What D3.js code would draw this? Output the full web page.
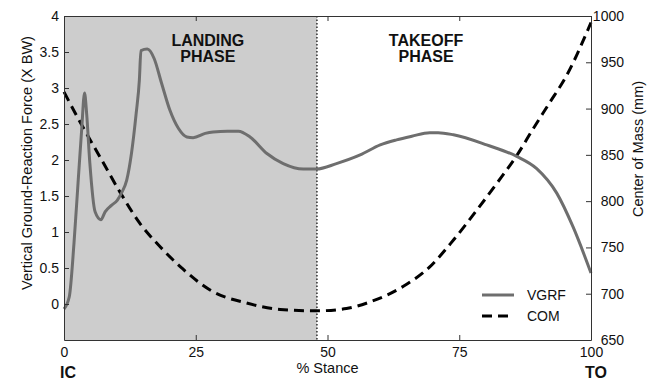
<!DOCTYPE html>
<html>
<head>
<meta charset="utf-8">
<script src="https://cdn.jsdelivr.net/npm/d3@7"></script>
<style>
  body { margin: 0; background: #fff; }
  text { font-family: "Liberation Sans", Arial, sans-serif; }
</style>
</head>
<body>
<svg id="chart" width="655" height="381"></svg>
<script>
// % stance / vertical ground-reaction force (x BW)
var vgrfStance = [0, 1.0, 1.9, 2.7, 3.35, 3.9, 4.3, 4.9, 5.9, 7.0, 7.8, 9.0, 10.1, 10.9, 11.9, 12.8, 13.7, 14.3, 14.6, 15.8, 17.1, 18.5, 20.1, 21.7, 23.3, 24.5, 26.8, 28.3, 31, 33.1, 35.3, 38.5, 41.6, 45.4, 47.9, 51.7, 56.2, 60, 63.1, 66, 69.4, 71, 73.9, 80.2, 85.9, 89.7, 93.5, 96.6, 100];
var vgrfValues = [-0.07, 0.10, 0.85, 1.72, 2.42, 2.93, 2.64, 1.96, 1.28, 1.17, 1.28, 1.37, 1.44, 1.54, 1.72, 2.09, 2.65, 3.11, 3.52, 3.54, 3.41, 3.07, 2.69, 2.44, 2.32, 2.31, 2.37, 2.39, 2.40, 2.40, 2.32, 2.09, 1.95, 1.875, 1.875, 1.95, 2.07, 2.21, 2.28, 2.33, 2.38, 2.38, 2.35, 2.21, 2.05, 1.88, 1.54, 1.07, 0.43];

// % stance / center of mass height (mm)
var comStance = [0, 3, 6.8, 10.6, 14.4, 18.2, 22.5, 28, 34.6, 41, 48, 53.6, 58, 64.4, 69.4, 73.9, 78.3, 82.1, 86, 89, 92, 95.4, 100];
var comValues = [918, 886, 848, 810, 776, 751, 727, 703, 690, 683, 681.5, 684, 691, 708, 729, 758, 790, 819, 850, 878, 905, 936, 993];

var xTicks = [0, 25, 50, 75, 100];
var leftTicks = [0, 0.5, 1, 1.5, 2, 2.5, 3, 3.5, 4];
var rightTicks = [650, 700, 750, 800, 850, 900, 950, 1000];
var phaseSplit = 48;
var phaseLabels = [{ at: 27.3, lines: ["LANDING", "PHASE"] }, { at: 68.7, lines: ["TAKEOFF", "PHASE"] }];
var legendItems = [{ name: "VGRF", key: "vgrf" }, { name: "COM", key: "com" }];

var margin = { top: 16, left: 64 },
    width = 527,
    height = 324;

var svg = d3.select("#chart");
var g = svg.append("g").attr("transform", "translate(" + margin.left + "," + margin.top + ")");

var x = d3.scaleLinear().domain([0, 100]).range([0, width]);
var y = d3.scaleLinear().domain([-0.5, 4]).range([height, 0]);
var y2 = d3.scaleLinear().domain([650, 1000]).range([height, 0]);

var axisColor = "#333";
var vgrfColor = "#6e6e6e";
var tickFont = 14, titleFont = 14.5;

// landing phase shading
g.append("rect")
  .attr("x", x(0)).attr("y", 0)
  .attr("width", x(phaseSplit) - x(0)).attr("height", height)
  .attr("fill", "#cdcdcd");

// phase split
g.append("line")
  .attr("x1", x(phaseSplit)).attr("x2", x(phaseSplit))
  .attr("y1", 0).attr("y2", height)
  .attr("stroke", "#000").attr("stroke-width", 1.2)
  .attr("stroke-dasharray", "1.5,2");

// phase labels
phaseLabels.forEach(function(p) {
  var t = g.append("text")
    .attr("text-anchor", "middle")
    .attr("font-size", 16).attr("font-weight", "bold")
    .attr("fill", "#111");
  p.lines.forEach(function(s, i) {
    t.append("tspan").attr("x", x(p.at)).attr("y", 30 + i * 16).text(s);
  });
});

var vgrfData = vgrfStance.map(function(s, i) { return [s, vgrfValues[i]]; });
var comData = comStance.map(function(s, i) { return [s, comValues[i]]; });

g.append("path")
  .datum(comData)
  .attr("fill", "none")
  .attr("stroke", "#000").attr("stroke-width", 3)
  .attr("stroke-dasharray", "10,6")
  .attr("d", d3.line().curve(d3.curveMonotoneX)
    .x(function(d) { return x(d[0]); })
    .y(function(d) { return y2(d[1]); }));

g.append("path")
  .datum(vgrfData)
  .attr("fill", "none")
  .attr("stroke", vgrfColor).attr("stroke-width", 3)
  .attr("stroke-linejoin", "round")
  .attr("d", d3.line().curve(d3.curveMonotoneX)
    .x(function(d) { return x(d[0]); })
    .y(function(d) { return y(d[1]); }));

// axes, ticks pointing inward
function styleAxis(sel) {
  sel.selectAll("path, line").attr("stroke", axisColor);
  sel.selectAll("text").attr("font-size", tickFont).attr("fill", "#111")
    .attr("font-family", "Liberation Sans, Arial, sans-serif");
}

g.append("g")
  .attr("transform", "translate(0," + height + ")")
  .call(d3.axisBottom(x).tickValues(xTicks).tickSize(-5).tickSizeOuter(0).tickPadding(7))
  .call(styleAxis);

g.append("g")
  .call(d3.axisTop(x).tickValues(xTicks).tickSize(-5).tickSizeOuter(0).tickFormat(""))
  .call(styleAxis);

g.append("g")
  .call(d3.axisLeft(y).tickValues(leftTicks).tickSize(-5).tickSizeOuter(0).tickPadding(5)
    .tickFormat(function(d) { return d; }))
  .call(styleAxis);

var right = g.append("g")
  .attr("transform", "translate(" + width + ",0)")
  .call(d3.axisRight(y2).tickValues(rightTicks).tickSize(-5).tickSizeOuter(0)
    .tickFormat(function(d) { return d; }))
  .call(styleAxis);
right.selectAll(".tick text").attr("x", 33).attr("text-anchor", "end");

// axis titles
svg.append("text")
  .attr("transform", "translate(32," + (margin.top + 147) + ") rotate(-90)")
  .attr("text-anchor", "middle").attr("font-size", titleFont).attr("fill", "#111")
  .text("Vertical Ground-Reaction Force (X BW)");

svg.append("text")
  .attr("transform", "translate(643," + (margin.top + 133) + ") rotate(-90)")
  .attr("text-anchor", "middle").attr("font-size", titleFont).attr("fill", "#111")
  .text("Center of Mass (mm)");

svg.append("text")
  .attr("x", margin.left + x(50)).attr("y", 373)
  .attr("text-anchor", "middle").attr("font-size", titleFont).attr("fill", "#111")
  .text("% Stance");

svg.append("text")
  .attr("x", margin.left + x(0) - 4).attr("y", 378)
  .attr("font-size", 16).attr("font-weight", "bold").attr("fill", "#111")
  .text("IC");

svg.append("text")
  .attr("x", margin.left + x(100) + 5).attr("y", 378)
  .attr("text-anchor", "middle")
  .attr("font-size", 16).attr("font-weight", "bold").attr("fill", "#111")
  .text("TO");

// legend
var legend = g.append("g").attr("transform", "translate(418,279)");
legendItems.forEach(function(item, i) {
  var row = legend.append("g").attr("transform", "translate(0," + i * 21 + ")");
  row.append("line")
    .attr("x1", 0).attr("x2", 32)
    .attr("stroke", item.key == "vgrf" ? vgrfColor : "#000")
    .attr("stroke-width", 3)
    .attr("stroke-dasharray", item.key == "com" ? "10,6" : null);
  row.append("text")
    .attr("x", 45).attr("dy", "0.35em")
    .attr("font-size", tickFont).attr("fill", "#111")
    .text(item.name);
});
</script>
</body>
</html>
